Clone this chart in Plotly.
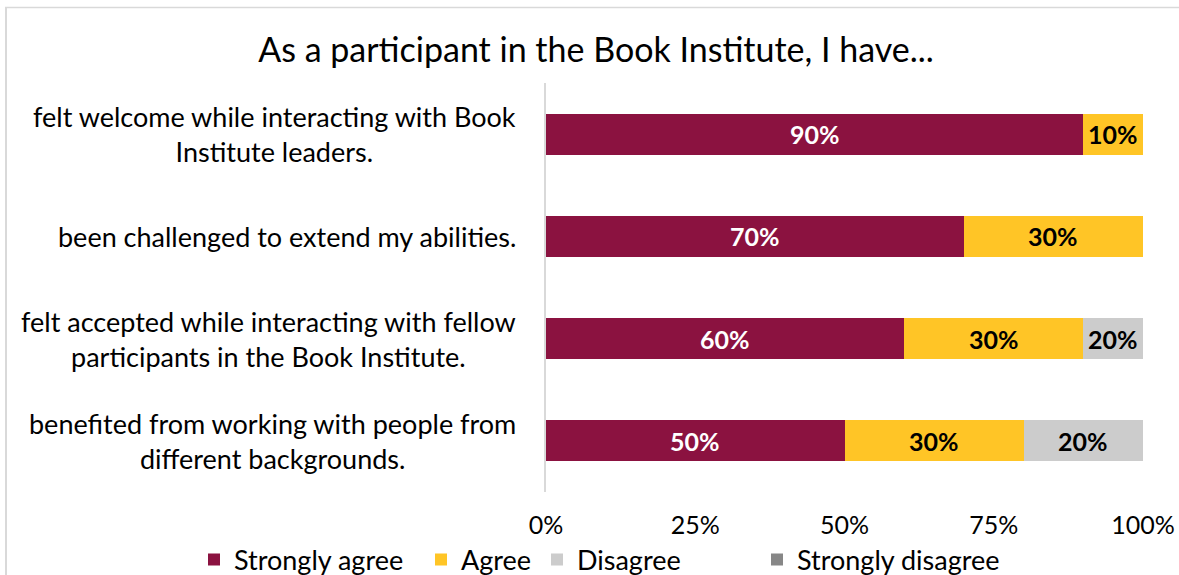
import plotly.graph_objects as go

categories = [
    "felt welcome while interacting with Book<br>Institute leaders.",
    "been challenged to extend my abilities.",
    "felt accepted while interacting with fellow<br>participants in the Book Institute.",
    "benefited from working with people from<br>different backgrounds.",
]
strongly_agree = [90, 70, 60, 50]
agree = [10, 30, 30, 30]
disagree = [0, 0, 20, 20]
strongly_disagree = [0, 0, 0, 0]
tick_vals = [0, 25, 50, 75, 100]
tick_labels = ["0%", "25%", "50%", "75%", "100%"]

series = [
    ("Strongly agree", strongly_agree, "#8B1240", "white"),
    ("Agree", agree, "#FFC526", "black"),
    ("Disagree", disagree, "#CCCCCC", "black"),
    ("Strongly disagree", strongly_disagree, "#878787", "black"),
]
legend_square_px = [208, 435, 551, 771]

W, H = 1179, 575
L, R, T, B = 546, 36, 83, 83
FONT = "Lato, Carlito, Calibri, sans-serif"
pw = W - L - R
ph = H - T - B


def px_x(px):
    return (px - L) / pw


def px_y(py):
    return (H - B - py) / ph


fig = go.Figure()
ypos = list(range(len(categories)))
legend_names = ["legend", "legend2", "legend3", "legend4"]
for (name, vals, color, _), lg in zip(series, legend_names):
    fig.add_trace(go.Bar(
        y=ypos, x=vals, name=name, orientation="h",
        marker=dict(color=color, line=dict(width=0)),
        width=0.4, hoverinfo="skip", legend=lg,
    ))

annotations = []
cum = [0] * len(categories)
for name, vals, color, tcolor in series:
    for i, v in enumerate(vals):
        start = cum[i]
        end = start + v
        cum[i] = end
        if v <= 0:
            continue
        vis_end = min(end, 100)
        annotations.append(dict(
            x=(start + vis_end) / 2, y=i, xref="x", yref="y",
            text=f"<b>{v}%</b>", showarrow=False,
            font=dict(family=FONT, size=25, color=tcolor),
        ))

for i, c in enumerate(categories):
    annotations.append(dict(
        x=px_x(518), y=i, xref="paper", yref="y",
        xanchor="right", yanchor="middle", align="center",
        text=c, showarrow=False,
        font=dict(family=FONT, size=27, color="black"),
    ))

frame_color = "#D9D9D9"
shapes = [
    dict(type="line", xref="paper", yref="paper",
         x0=px_x(5), x1=px_x(1200), y0=px_y(7.5), y1=px_y(7.5),
         line=dict(color=frame_color, width=1.5), layer="below"),
    dict(type="line", xref="paper", yref="paper",
         x0=px_x(6), x1=px_x(6), y0=px_y(7), y1=px_y(600),
         line=dict(color=frame_color, width=2), layer="below"),
]

legends = {}
for lg, sq in zip(legend_names, legend_square_px):
    legends[lg] = dict(
        orientation="h", xref="paper", yref="paper",
        x=px_x(sq - 14), xanchor="left", y=px_y(560), yanchor="middle",
        font=dict(family=FONT, size=27, color="black"),
        bgcolor="rgba(0,0,0,0)",
    )

fig.update_layout(
    width=W, height=H,
    margin=dict(l=L, r=R, t=T, b=B, autoexpand=False),
    barmode="stack",
    paper_bgcolor="white", plot_bgcolor="white",
    title=dict(
        text="As a participant in the Book Institute, I have...",
        x=596 / W, xanchor="center", xref="container",
        y=1 - 50 / H, yanchor="middle", yref="container",
        font=dict(family=FONT, size=34, color="black"),
    ),
    xaxis=dict(
        range=[0, 100], tickvals=tick_vals, ticktext=tick_labels,
        showgrid=False, zeroline=False, showline=False, ticks="",
        tickfont=dict(family=FONT, size=25, color="black"),
        ticklabelstandoff=16,
    ),
    yaxis=dict(
        tickvals=ypos, showticklabels=False, range=[3.5, -0.5],
        showgrid=False, zeroline=False, showline=True,
        linecolor="#D9D9D9", linewidth=1.5, ticks="",
    ),
    annotations=annotations,
    shapes=shapes,
    showlegend=True,
    **legends,
)

fig.write_html(
    "out.html",
    config={"displayModeBar": False},
    post_script="document.body.style.margin='0px';",
)
